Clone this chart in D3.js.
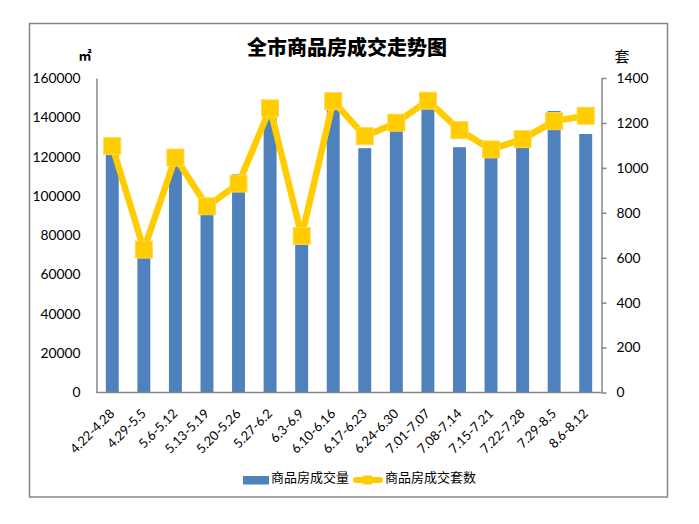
<!DOCTYPE html>
<html><head><meta charset="utf-8">
<script src="https://cdn.jsdelivr.net/npm/d3@7"></script>
<style>body{margin:0;background:#fff}svg{display:block}</style>
</head><body><svg id="c" width="699" height="524"></svg>
<script>
const categories = ["4.22-4.28","4.29-5.5","5.6-5.12","5.13-5.19","5.20-5.26","5.27-6.2","6.3-6.9","6.10-6.16","6.17-6.23","6.24-6.30","7.01-7.07","7.08-7.14","7.15-7.21","7.22-7.28","7.29-8.5","8.6-8.12"];
const areaValues = [127500,70000,117500,92000,111000,140000,77000,144000,124300,134000,144800,124800,120800,124700,143200,131500];
const setValues = [1097,636,1046,829,930,1265,697,1297,1141,1201,1299,1168,1082,1128,1208,1232];
const leftTicks = [0,20000,40000,60000,80000,100000,120000,140000,160000];
const rightTicks = [0,200,400,600,800,1000,1200,1400];
const title = "全市商品房成交走势图";
const seriesNames = ["商品房成交量","商品房成交套数"];

const svg = d3.select("#c");
const font = "Lato, 'Liberation Sans', Arial, sans-serif";
const cjk = "'Noto Sans CJK SC', sans-serif";
const grey = "#868686";
const L = 96.5, R = 601.5, T = 78, B = 392.5;

svg.append("rect").attr("x",29.5).attr("y",23.5).attr("width",638).attr("height",473.5)
  .attr("fill","none").attr("stroke",grey).attr("stroke-width",1.5);

const x = d3.scaleBand().domain(categories).range([L,R]).paddingInner(0.59).paddingOuter(0.295);
const yL = d3.scaleLinear().domain([0,160000]).range([B,T]);
const yR = d3.scaleLinear().domain([0,1400]).range([B,T]);

// bars
svg.append("g").selectAll("rect").data(areaValues).join("rect")
  .attr("x",(d,i)=>x(categories[i])).attr("width",x.bandwidth())
  .attr("y",d=>yL(d)).attr("height",d=>B-yL(d)).attr("fill","#4F81BD");

// left axis
const gl = svg.append("g").attr("transform",`translate(${L},0)`)
  .call(d3.axisLeft(yL).tickValues(leftTicks).tickSize(0).tickPadding(16).tickFormat(d3.format("d")));
gl.select(".domain").attr("stroke",grey).attr("stroke-width",1.5);
gl.selectAll("text").attr("font-family",font).attr("font-size",13.8).attr("fill","#000");

// right axis
const gr = svg.append("g").attr("transform",`translate(${R},0)`)
  .call(d3.axisRight(yR).tickValues(rightTicks).tickSize(5).tickSizeOuter(0).tickPadding(10).tickFormat(d3.format("d")));
gr.select(".domain").attr("stroke",grey).attr("stroke-width",1.5);
gr.selectAll(".tick line").attr("stroke",grey).attr("stroke-width",1.5);
gr.selectAll("text").attr("font-family",font).attr("font-size",13.8).attr("fill","#000");

// bottom axis
const gb = svg.append("g").attr("transform",`translate(0,${B})`)
  .call(d3.axisBottom(x).tickSize(0).tickSizeOuter(0).tickPadding(0));
gb.select(".domain").attr("stroke",grey).attr("stroke-width",1.5).attr("d",`M${L},0H${R}`);
gb.selectAll("text").attr("font-family",font).attr("font-size",13).attr("fill","#000")
  .attr("text-anchor","end").attr("dy",0).attr("y",0).attr("transform","translate(3,22) rotate(-45)");

// line
const cx = (i)=>x(categories[i])+x.bandwidth()/2;
const line = d3.line().x((d,i)=>cx(i)).y(d=>yR(d));
svg.append("path").datum(setValues).attr("d",line).attr("fill","none")
  .attr("stroke","#FFCC00").attr("stroke-width",6.5).attr("stroke-linejoin","round");
svg.append("g").selectAll("rect").data(setValues).join("rect")
  .attr("x",(d,i)=>cx(i)-8.5).attr("y",d=>yR(d)-8.5).attr("width",17).attr("height",17)
  .attr("fill","#FFCC00").attr("stroke","#FFD84D").attr("stroke-width",1);

// title and units
svg.append("text").attr("x",347).attr("y",55).attr("text-anchor","middle")
  .attr("font-family",cjk).attr("font-weight","900").attr("font-size",20).text(title);
svg.append("text").attr("x",85).attr("y",60).attr("text-anchor","middle")
  .attr("font-family",cjk).attr("font-weight","bold").attr("font-size",13).text("㎡");
svg.append("text").attr("x",622).attr("y",62).attr("text-anchor","middle")
  .attr("font-family",cjk).attr("font-size",15).text("套");

// legend
svg.append("rect").attr("x",243).attr("y",476).attr("width",26).attr("height",8.5).attr("fill","#4F81BD");
svg.append("text").attr("x",271).attr("y",482).attr("font-family",cjk).attr("font-size",13).text(seriesNames[0]);
svg.append("line").attr("x1",356).attr("x2",380).attr("y1",480).attr("y2",480)
  .attr("stroke","#FFCC00").attr("stroke-width",6).attr("stroke-linecap","round");
svg.append("rect").attr("x",363).attr("y",475.5).attr("width",9).attr("height",9).attr("fill","#FFCC00");
svg.append("text").attr("x",385).attr("y",482).attr("font-family",cjk).attr("font-size",13).text(seriesNames[1]);
</script></body></html>
